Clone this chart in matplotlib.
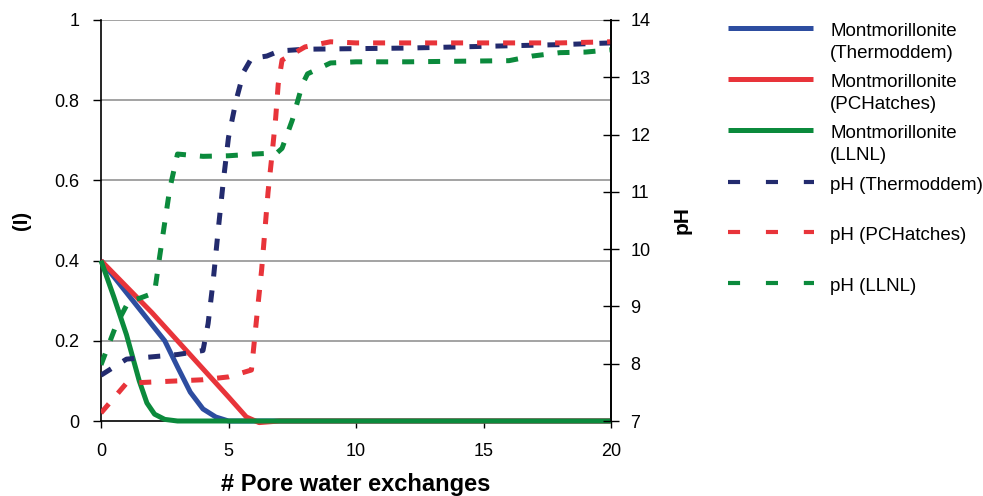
import matplotlib
matplotlib.use("Agg")
import matplotlib.pyplot as plt
from matplotlib.lines import Line2D

plt.rcParams['font.family'] = ['Liberation Sans', 'DejaVu Sans']

# Montmorillonite fraction (I) against pore water exchanges
mont_thermo_x = [0, 1, 2, 2.5, 3, 3.5, 4, 4.5, 5, 20]
mont_thermo = [0.4, 0.32, 0.24, 0.2, 0.135, 0.072, 0.03, 0.01, 0.0, 0.0]

mont_pchat_x = [0, 1, 2, 3, 4, 5, 5.7, 6.2, 6.6, 7, 20]
mont_pchat = [0.4, 0.335, 0.27, 0.2, 0.13, 0.06, 0.01, -0.004, -0.002, 0.0, 0.0]

mont_llnl_x = [0, 0.5, 1, 1.5, 1.8, 2.1, 2.5, 3, 20]
mont_llnl = [0.4, 0.31, 0.215, 0.1, 0.045, 0.017, 0.004, 0.0, 0.0]

# pH of the pore water
ph_thermo_x = [0, 1, 2, 3, 4, 4.2, 4.4, 4.6, 4.8, 5.0, 5.3, 5.6, 5.9, 6.5, 7, 8, 10, 12, 14, 16, 18, 20]
ph_thermo = [7.8, 8.08, 8.12, 8.16, 8.23, 8.7, 9.45, 10.35, 11.2, 11.95, 12.6, 13.1, 13.33, 13.37,
             13.46, 13.49, 13.5, 13.51, 13.53, 13.55, 13.57, 13.6]

ph_pchat_x = [0, 1, 2, 3, 4, 5, 5.9, 6.15, 6.3, 6.55, 6.7, 6.85, 6.95, 7.1, 8, 9, 10, 12, 14, 16, 18, 20]
ph_pchat = [7.14, 7.66, 7.68, 7.7, 7.72, 7.77, 7.89, 9.0, 9.64, 10.99, 11.62, 12.29, 12.88, 13.3,
            13.53, 13.62, 13.6, 13.6, 13.6, 13.6, 13.6, 13.62]

ph_llnl_x = [0, 0.6, 1.1, 1.5, 2.1, 2.3, 2.7, 3.0, 4, 5, 6, 6.9, 7.1, 7.5, 7.9, 8.1, 9, 10, 12,
             14, 16, 16.9, 18, 19, 20]
ph_llnl = [7.98, 8.68, 9.1, 9.14, 9.24, 9.87, 11.06, 11.66, 11.62, 11.63, 11.66, 11.68, 11.76,
           12.25, 12.88, 13.06, 13.25, 13.27, 13.27, 13.28, 13.29, 13.37, 13.43, 13.44, 13.48]

labels = ["Montmorillonite\n(Thermoddem)", "Montmorillonite\n(PCHatches)", "Montmorillonite\n(LLNL)",
          "pH (Thermoddem)", "pH (PCHatches)", "pH (LLNL)"]
colors = ["#2d4da0", "#e8343a", "#0b8a3c", "#232b6e", "#e8343a", "#0b8a3c"]

x_ticks = [0, 5, 10, 15, 20]
left_ticks = [0, 0.2, 0.4, 0.6, 0.8, 1]
left_ticklabels = ["0", "0.2", "0.4", "0.6", "0.8", "1"]
ph_ticks = [7, 8, 9, 10, 11, 12, 13, 14]

W, H = 983, 496
fig = plt.figure(figsize=(W / 100, H / 100), dpi=100)
ax = fig.add_axes([101 / W, 1 - 421 / H, 510 / W, 401 / H])
ax2 = ax.twinx()

LW = 3.6
DASH = (2.4, 2.8)
TICK_FS = 13

for yv in left_ticks[1:]:
    ax.axhline(yv, color="#8a8a8a", lw=1.1, zorder=0)

solid = [(mont_thermo_x, mont_thermo), (mont_pchat_x, mont_pchat), (mont_llnl_x, mont_llnl)]
for (xs, ys), c in zip(solid, colors[:3]):
    ax.plot(xs, ys, color=c, lw=LW, solid_capstyle="butt", clip_on=False, zorder=3)

dashed = [(ph_thermo_x, ph_thermo), (ph_pchat_x, ph_pchat), (ph_llnl_x, ph_llnl)]
for (xs, ys), c in zip(dashed, colors[3:]):
    ax2.plot(xs, ys, color=c, lw=LW, linestyle=(0, DASH), dash_capstyle="butt")

ax.set_xlim(0, 20)
ax.set_ylim(0, 1)
ax2.set_ylim(7, 14)

ax.set_xticks(x_ticks)
ax.set_yticks(left_ticks)
ax.set_yticklabels(left_ticklabels)
ax2.set_yticks(ph_ticks)

for a in (ax, ax2):
    a.spines["top"].set_visible(False)
    for s in a.spines.values():
        s.set_linewidth(1.2)
ax2.spines["left"].set_visible(False)
ax2.spines["bottom"].set_visible(False)

ax.tick_params(axis="y", direction="out", length=6, width=1, pad=9.5, labelsize=TICK_FS)
ax.tick_params(axis="x", direction="out", length=5, width=1, pad=11, labelsize=TICK_FS)
ax2.tick_params(axis="y", direction="inout", length=12, width=1, pad=8, labelsize=TICK_FS)

ax.set_xlabel("# Pore water exchanges", fontsize=17, fontweight="bold", va="top")
ax.xaxis.set_label_coords(0.5, -0.13)
ax.set_ylabel("(I)", fontsize=14.5, fontweight="bold")
ax.yaxis.set_label_coords(-0.137, 0.5)
ax2.set_ylabel("pH", fontsize=15, fontweight="bold")
ax2.yaxis.set_label_coords(1.121, 0.5)

# legend drawn in figure pixel space so the handle sits on the first text line
lax = fig.add_axes([0, 0, 1, 1])
lax.set_xlim(0, W)
lax.set_ylim(H, 0)
lax.axis("off")
entry_y = [28, 79, 130, 182, 232, 283]
for i, (lab, c, y) in enumerate(zip(labels, colors, entry_y)):
    if i < 3:
        lax.add_line(Line2D([728, 813], [y, y], color=c, lw=LW, solid_capstyle="butt"))
    else:
        lax.add_line(Line2D([728, 814], [y, y], color=c, lw=3.0,
                            linestyle=(0, (2.9, 6.2)), dash_capstyle="butt"))
    for j, line in enumerate(lab.split("\n")):
        lax.text(830, y + 8 + 22 * j, line, fontsize=13.5, va="baseline", ha="left")

fig.savefig("out.png", dpi=100)
